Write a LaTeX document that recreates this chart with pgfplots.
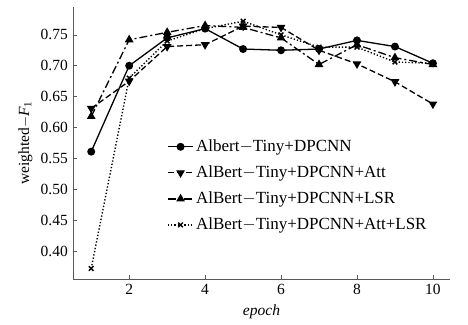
\documentclass[border=0pt]{standalone}
\usepackage{pgfplots}
\pgfplotsset{compat=1.18}
\usepackage{fontspec}
\setmainfont{Liberation Serif}
\begin{document}
\fontsize{15}{18}\selectfont
\begin{tikzpicture}
\begin{axis}[
  scale only axis, width=377pt, height=272pt,
  xmin=0.52, xmax=10.45, ymin=0.355, ymax=0.795,
  axis x line*=bottom, axis y line*=left,
  axis line style={gray!70!black, line width=0.6pt},
  xtick={2,4,6,8,10},
  ytick={0.40,0.45,0.50,0.55,0.60,0.65,0.70,0.75},
  yticklabel style={/pgf/number format/.cd, fixed, fixed zerofill, precision=2},
  /pgf/number format/assume math mode=true,
  tick style={gray!70!black, line width=0.6pt},
  major tick length=4pt,
  tick align=inside,
  ticklabel style={font=\fontsize{15.5}{18}\selectfont},
  label style={font=\fontsize{15.5}{18}\selectfont},
  xlabel={\textit{epoch}},
  ylabel={weighted$-$\textit{F}\textsubscript{1}},
  xlabel style={yshift=0pt},
  ylabel style={yshift=-2pt},
  legend style={draw=none, fill=none, at={(0.249,0.52)}, anchor=north west,
    font=\fontsize{17}{19}\selectfont, row sep=8pt, inner sep=0pt},
  legend cell align=left,
  legend image code/.code={\draw[mark repeat=2,mark phase=2] plot coordinates {(0cm,0cm) (0.45cm,0cm) (0.9cm,0cm)};},
  every axis plot/.append style={black, line width=1.3pt},
]
\addplot[mark=*, mark size=3.3pt] coordinates {
 (1,0.561) (2,0.700) (3,0.745) (4,0.760) (5,0.727) (6,0.725) (7,0.727) (8,0.741) (9,0.731) (10,0.704)};
\addlegendentry{Albert$-$Tiny+DPCNN}
\addplot[dash pattern=on 6pt off 3pt, mark=triangle*, mark options={rotate=180, solid}, mark size=3.8pt] coordinates {
 (1,0.631) (2,0.675) (3,0.731) (4,0.734) (5,0.764) (6,0.762) (7,0.725) (8,0.703) (9,0.674) (10,0.638)};
\addlegendentry{AlBert$-$Tiny+DPCNN+Att}
\addplot[dash pattern=on 8pt off 3pt on 2pt off 3pt, mark=triangle*, mark options={solid}, mark size=3.8pt] coordinates {
 (1,0.618) (2,0.742) (3,0.754) (4,0.765) (5,0.762) (6,0.745) (7,0.702) (8,0.734) (9,0.713) (10,0.702)};
\addlegendentry{AlBert$-$Tiny+DPCNN+LSR}
\addplot[dotted, line width=1.4pt, mark=x, mark options={solid, line width=1.4pt}, mark size=3.3pt] coordinates {
 (1,0.372) (2,0.680) (3,0.740) (4,0.760) (5,0.772) (6,0.750) (7,0.730) (8,0.730) (9,0.706) (10,0.704)};
\addlegendentry{AlBert$-$Tiny+DPCNN+Att+LSR}
\end{axis}
\pgfresetboundingbox
\path (current axis.south west) ++(-73pt,-45pt) rectangle ++(468pt,324pt);
\end{tikzpicture}
\end{document}
